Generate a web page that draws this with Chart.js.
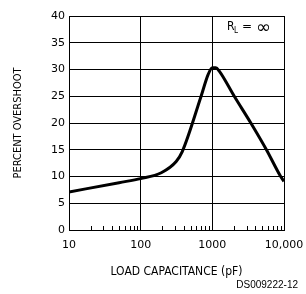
<!DOCTYPE html>
<html lang="en">
<head>
    <meta charset="UTF-8">
    <title>Percent Overshoot vs Load Capacitance</title>
    <style>
        body { margin: 0; background: #fff; }
        canvas { display: block; }
    </style>
</head>
<body>
    <canvas id="overshootCanvas" width="306" height="294"></canvas>

    <script src="https://cdn.jsdelivr.net/npm/chart.js"></script>
    <script>
        // values
        var loadCap = [10, 50, 100, 194, 313, 379, 697, 870, 1000, 1120, 1250, 2023, 3446, 5686, 8990, 10000];
        var overshoot = [7.1, 8.85, 9.6, 10.7, 12.8, 14.6, 25, 29.0, 30.35, 30.35, 29.7, 25, 20, 15, 10, 9.1];
        var xTicks = [10, 100, 1000, 10000];
        var xTickLabels = ['10', '100', '1000', '10,000'];
        var minorTicks = [20, 30, 40, 50, 60, 70, 80, 90,
                          200, 300, 400, 500, 600, 700, 800, 900,
                          2000, 3000, 4000, 5000, 6000, 7000, 8000, 9000];

        var tickFont = { family: 'DejaVu Sans', size: 11 };
        var xTitleFont = { family: 'DejaVu Sans Condensed, DejaVu Sans', size: 12 };
        var yTitleFont = { family: 'DejaVu Sans Condensed, DejaVu Sans', size: 11 };

        // minor ticks, R_L label and figure number
        var extras = {
            id: 'extras',
            afterDraw: function(chart) {
                var c = chart.ctx, x = chart.scales.x, area = chart.chartArea;
                c.save();
                c.strokeStyle = '#000';
                c.lineWidth = 1;
                minorTicks.forEach(function(v) {
                    var px = Math.round(x.getPixelForValue(v)) + 0.5;
                    c.beginPath();
                    c.moveTo(px, area.bottom);
                    c.lineTo(px, area.bottom - 4);
                    c.stroke();
                });
                c.fillStyle = '#000';
                c.textBaseline = 'middle';
                c.font = '12px "DejaVu Sans Condensed", "DejaVu Sans"';
                c.fillText('R', 227, 27);
                c.font = '8px "DejaVu Sans Condensed", "DejaVu Sans"';
                c.fillText('L', 234, 31);
                c.font = '12px "DejaVu Sans"';
                c.fillText('=', 242, 27);
                c.font = '18px "DejaVu Sans"';
                c.fillText('\u221E', 256, 28);
                c.font = '10px "Liberation Sans"';
                c.textAlign = 'right';
                c.fillText('DS009222-12', 298, 285);
                c.restore();
            }
        };

        var ctx = document.getElementById('overshootCanvas').getContext('2d');
        var chart = new Chart(ctx, {
            type: 'line',
            data: {
                labels: loadCap,
                datasets: [{
                    data: loadCap.map(function(v, i) { return { x: v, y: overshoot[i] }; }),
                    borderColor: '#000',
                    borderWidth: 3,
                    pointRadius: 0,
                    cubicInterpolationMode: 'monotone',
                    fill: false
                }]
            },
            options: {
                responsive: false,
                animation: false,
                layout: { padding: { top: 16, right: 22, left: 0, bottom: 0 } },
                plugins: { legend: { display: false }, tooltip: { enabled: false } },
                scales: {
                    x: {
                        type: 'logarithmic',
                        min: 10,
                        max: 10000,
                        afterBuildTicks: function(scale) {
                            scale.ticks = xTicks.map(function(v) { return { value: v }; });
                        },
                        afterFit: function(scale) {
                            scale.height = 64;
                            scale.paddingLeft = 0;
                            scale.paddingRight = 0;
                        },
                        ticks: {
                            color: '#000',
                            font: tickFont,
                            padding: 9,
                            maxRotation: 0,
                            autoSkip: false,
                            callback: function(v) { return xTickLabels[xTicks.indexOf(v)]; }
                        },
                        grid: { color: '#000', drawTicks: false },
                        border: { color: '#000' },
                        title: {
                            display: true,
                            text: 'LOAD CAPACITANCE (pF)',
                            color: '#000',
                            font: xTitleFont,
                            padding: { top: 0, bottom: 15 }
                        }
                    },
                    y: {
                        min: 0,
                        max: 40,
                        afterFit: function(scale) {
                            scale.width = 69;
                            scale.paddingTop = 0;
                            scale.paddingBottom = 0;
                        },
                        ticks: { stepSize: 5, color: '#000', font: tickFont, padding: 4 },
                        grid: { color: '#000', drawTicks: false },
                        border: { color: '#000' },
                        title: {
                            display: true,
                            text: 'PERCENT OVERSHOOT',
                            color: '#000',
                            font: yTitleFont,
                            padding: { top: 11.5, bottom: 0 }
                        }
                    }
                }
            },
            plugins: [extras]
        });
    </script>
</body>
</html>
